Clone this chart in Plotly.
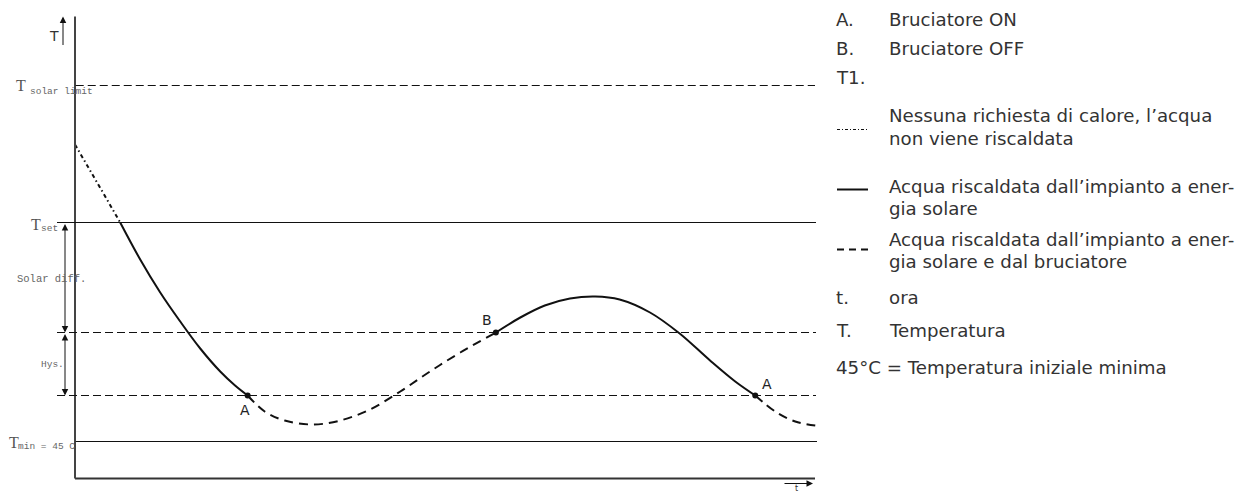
import plotly.graph_objects as go

# ---- data (time units 0..100, temperature units) ----
t_nodemand = [0.0, 2.0, 4.0, 6.1]
T_nodemand = [74.7, 72.2, 69.6, 66.9]

t_solar1 = [6.1, 8.8, 11.5, 14.2, 16.9, 19.6, 21.6, 23.3]
T_solar1 = [66.9, 63.2, 59.9, 57.0, 54.3, 52.0, 50.6, 49.6]

t_burner1 = [23.3, 25.6, 28.3, 32.1, 35.8, 39.8, 43.9, 47.9, 52.0, 56.8]
T_burner1 = [49.6, 48.0, 47.1, 46.7, 47.1, 48.2, 50.0, 52.0, 53.9, 55.9]

t_solar2 = [56.8, 60.1, 63.4, 66.8, 70.2, 73.5, 77.6, 81.6, 85.7, 89.1, 91.8]
T_solar2 = [55.9, 57.4, 58.6, 59.3, 59.5, 59.2, 57.9, 55.8, 53.1, 51.0, 49.6]

t_burner2 = [91.8, 94.5, 97.2, 99.9]
T_burner2 = [49.6, 48.0, 47.0, 46.6]

point_labels = ["A", "B", "A"]
point_t = [23.3, 56.8, 91.8]
point_T = [49.6, 55.9, 49.6]

T_solar_limit = 80.6
T_set = 66.9
T_B_level = 55.9
T_A_level = 49.6
T_min = 45.0
T_axis = 41.3
T_top = 87.5

legend_keys = ["A.", "B.", "T1.", "", "", "", "t.", "T."]
legend_texts = [
    ["Bruciatore ON"],
    ["Bruciatore OFF"],
    [""],
    ["Nessuna richiesta di calore, l\u2019acqua", "non viene riscaldata"],
    ["Acqua riscaldata dall\u2019impianto a ener-", "gia solare"],
    ["Acqua riscaldata dall\u2019impianto a ener-", "gia solare e dal bruciatore"],
    ["ora"],
    ["Temperatura"],
]
legend_note = "45\u00b0C = Temperatura iniziale minima"

# ---- geometry helpers (screen pixel -> data units) ----
PX = 7.41   # px per time unit
PY = 10.0   # px per temperature unit
def tx(px):
    return (px - 75) / PX
def ty(py):
    return 45 + (442 - py) / PY

OFF = 8          # page body margin
W, H = 1229, 486  # figure fits inside the 1245x502 window with the body margin

fig = go.Figure()
BLACK = "#111111"

fig.add_trace(go.Scatter(x=t_nodemand, y=T_nodemand, mode="lines",
                         line=dict(color=BLACK, width=2, dash="4px,3px,1.5px,3px"),
                         hoverinfo="skip"))
fig.add_trace(go.Scatter(x=t_solar1 + [None] + t_solar2, y=T_solar1 + [None] + T_solar2,
                         mode="lines", line=dict(color=BLACK, width=2, shape="spline"),
                         hoverinfo="skip"))
fig.add_trace(go.Scatter(x=t_burner1 + [None] + t_burner2, y=T_burner1 + [None] + T_burner2,
                         mode="lines", line=dict(color=BLACK, width=2, shape="spline",
                                                 dash="9px,6px"),
                         hoverinfo="skip"))
fig.add_trace(go.Scatter(x=point_t, y=point_T, mode="markers",
                         marker=dict(color=BLACK, size=6), hoverinfo="skip"))

shapes = []
# axes
shapes.append(dict(type="line", xref="x", yref="y", x0=0, x1=tx(815), y0=T_axis, y1=T_axis,
                   line=dict(color="#333333", width=2)))
shapes.append(dict(type="line", xref="x", yref="y", x0=0, x1=0, y0=T_axis, y1=T_top,
                   line=dict(color="#444444", width=2)))
# reference lines
ref = dict(color=BLACK, width=1)
shapes.append(dict(type="line", xref="x", yref="y", x0=0.1, x1=tx(815), y0=T_solar_limit, y1=T_solar_limit,
                   line=dict(ref, dash="8px,4px")))
shapes.append(dict(type="line", xref="x", yref="y", x0=tx(57), x1=tx(816), y0=T_set, y1=T_set,
                   line=ref))
shapes.append(dict(type="line", xref="x", yref="y", x0=tx(57), x1=tx(816), y0=T_B_level, y1=T_B_level,
                   line=dict(ref, dash="8px,4px")))
shapes.append(dict(type="line", xref="x", yref="y", x0=tx(57), x1=tx(816), y0=T_A_level, y1=T_A_level,
                   line=dict(ref, dash="8px,4px")))
shapes.append(dict(type="line", xref="x", yref="y", x0=0.1, x1=tx(817), y0=T_min, y1=T_min,
                   line=ref))
# legend symbols
shapes.append(dict(type="line", xref="x", yref="y", x0=tx(837), x1=tx(868), y0=ty(130), y1=ty(130),
                   line=dict(color=BLACK, width=1, dash="3px,2px,1px,2px")))
shapes.append(dict(type="line", xref="x", yref="y", x0=tx(837), x1=tx(868), y0=ty(190), y1=ty(190),
                   line=dict(color=BLACK, width=2)))
shapes.append(dict(type="line", xref="x", yref="y", x0=tx(837), x1=tx(868), y0=ty(250), y1=ty(250),
                   line=dict(color=BLACK, width=2, dash="7px,5px")))
fig.update_layout(shapes=shapes)

ann = []
def arrow(x0, y0, x1, y1, both=False):
    ann.append(dict(x=x1, y=y1, ax=x0, ay=y0, xref="x", yref="y", axref="x", ayref="y",
                    text="", showarrow=True, arrowhead=2, arrowsize=1.3, arrowwidth=1,
                    arrowcolor=BLACK, arrowside="end+start" if both else "end"))
arrow(tx(63), ty(47), tx(63), ty(17))
arrow(tx(783), ty(484), tx(813), ty(484))
arrow(tx(65), ty(223), tx(65), ty(333), both=True)
arrow(tx(65), ty(333), tx(65), ty(396), both=True)

def text(px, py, s, size, family, color="#555555", xanchor="left"):
    ann.append(dict(x=tx(px), y=ty(py), text=s, showarrow=False, xanchor=xanchor, yanchor="middle",
                    borderpad=0,
                    font=dict(size=size, family=family, color=color), xref="x", yref="y"))

SERIF = "Liberation Serif"
MONO = "Liberation Mono"
SANS = "DejaVu Sans"
text(48, 36, "T", 14, SANS, "#333333")
text(794, 489, "t", 8, SANS, "#333333")
text(15, 86, "T", 16, SERIF, "#555555")
text(29, 92, "solar limit", 9.5, MONO, "#666666")
text(30, 225, "T", 16, SERIF, "#555555")
text(40, 229, "set", 9.5, MONO, "#666666")
text(8, 443, "T", 16, SERIF, "#555555")
text(17, 447, "min = 45 C", 9.5, MONO, "#666666")
text(16, 279, "Solar diff.", 10.5, MONO, "#666666")
text(40, 365, "Hys.", 9.5, MONO, "#666666")
# point labels
text(245, 410, point_labels[0], 14, SANS, "#222222", "center")
text(487, 320, point_labels[1], 14, SANS, "#222222", "center")
text(767, 384, point_labels[2], 14, SANS, "#222222", "center")

# right legend
LFS = 18.2
rows_y = [20, 49, 78, [116, 139], [187, 209], [240, 262], 298, 331]
for key, lines, ys in zip(legend_keys, legend_texts, rows_y):
    ys_list = ys if isinstance(ys, list) else [ys]
    if key:
        text(835, ys_list[0], key, LFS, SANS, "#333333")
    for line, yy in zip(lines, ys_list):
        if line:
            text(888, yy, line, LFS, SANS, "#333333")
text(835, 368, legend_note, LFS, SANS, "#333333")

fig.update_layout(annotations=ann)

fig.update_layout(
    width=W, height=H,
    margin=dict(l=0, r=0, t=0, b=0),
    paper_bgcolor="white", plot_bgcolor="white",
    showlegend=False,
    xaxis=dict(range=[tx(OFF), tx(W + OFF)], visible=False, fixedrange=True),
    yaxis=dict(range=[ty(H + OFF + 0.5), ty(OFF + 0.5)], visible=False, fixedrange=True),
)
fig.write_html("out.html")
